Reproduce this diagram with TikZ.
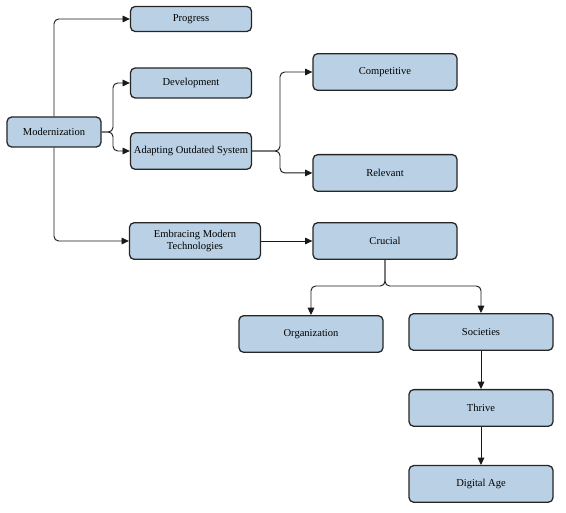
\documentclass[tikz,border=0pt]{standalone}
\usepackage{fontspec}
\setmainfont{Liberation Serif}
\usepackage{xcolor}
\usetikzlibrary{positioning,arrows.meta}
\definecolor{boxblue}{RGB}{186,209,229}

\begin{document}
\begin{tikzpicture}[x=0.03cm, y=-0.03cm,
    box/.style={draw=black!85, fill=boxblue, line width=1.1pt, rounded corners=4pt, minimum width=4.32cm, minimum height=1.1cm, inner sep=1pt, align=center, font=\fontsize{9}{9.5}\selectfont},
    link/.style={draw=black!90, line width=0.8pt, rounded corners=4pt, -{Triangle[length=2.2mm,width=2mm]}}]
    \useasboundingbox (0,0) rectangle (566,513);

    \node [box, minimum width=2.82cm, minimum height=0.9cm] (mod) at (54,132) {Modernization};
    \node [box, minimum width=3.63cm, minimum height=0.75cm] (prog) at (191,19) {Progress};
    \node [box, minimum width=3.63cm, minimum height=0.9cm] (dev) at (191,83) {Development};
    \node [box, minimum width=3.63cm] (adapt) at (191,151) {Adapting Outdated System};
    \node [box, minimum width=3.93cm] (emb) at (195,241) {Embracing Modern\\Technologies};
    \node [box] (comp) at (385,72) {Competitive};
    \node [box, below=1.89cm of comp] (rel) {Relevant};
    \node [box] (cru) at (385,241) {Crucial};
    \node [box] (org) at (311,334) {Organization};
    \node [box] (soc) at (481,332) {Societies};
    \node [box, below=1.14cm of soc] (thr) {Thrive};
    \node [box, below=1.14cm of thr] (dig) {Digital Age};

    \coordinate (modfork) at (113,132);
    \coordinate (adfork) at (280,151);
    \coordinate (crufork) at (385,286);

    \draw [link] (mod.north) |- (prog.west);
    \draw [link] (mod.south) |- (emb.west);
    \draw [link] (mod.east) -- (modfork) |- (dev.west);
    \draw [link] (mod.east) -- (modfork) |- (adapt.west);
    \draw [link] (adapt.east) -- (adfork) |- (comp.west);
    \draw [link] (adapt.east) -- (adfork) |- (rel.west);
    \draw [link] (emb.east) -- (cru.west);
    \draw [link] (cru.south) -- (crufork) -| (org.north);
    \draw [link] (cru.south) -- (crufork) -| (soc.north);
    \draw [link] (soc) -- (thr);
    \draw [link] (thr) -- (dig);
\end{tikzpicture}
\end{document}
